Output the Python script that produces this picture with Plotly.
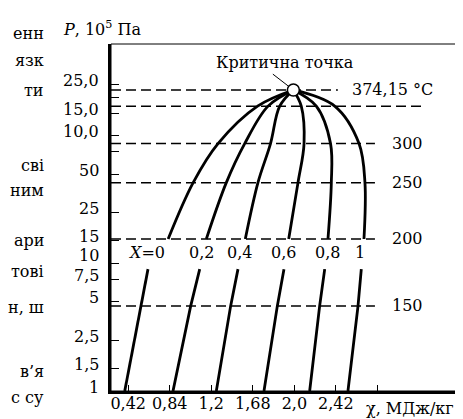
import math
import plotly.graph_objects as go

# ---------------- data ----------------
# saturation isotherms: pressure (10^5 Pa), label, right end of dashed line (MJ/kg)
isotherm_p = [4.64, 15.5, 42.8, 86.5, 170, 227.5]
isotherm_label = ["150", "200", "250", "300", "", "374,15 °C"]
isotherm_end_h = [2.915, 2.915, 2.915, 2.915, 3.42, 2.54]

# constant dryness lines X
dryness = ["<i>X</i>=0", "0,2", "0,4", "0,6", "0,8", "1"]
p_upper = [227.5, 170, 86.5, 42.8, 15.5]
h_upper = [
    [2.09, 1.728, 1.328, 1.077, 0.824],
    [2.09, 1.834, 1.598, 1.412, 1.210],
    [2.09, 1.952, 1.859, 1.732, 1.604],
    [2.09, 2.170, 2.198, 2.137, 2.043],
    [2.09, 2.322, 2.466, 2.474, 2.440],
    [2.09, 2.508, 2.754, 2.814, 2.804],
]
p_lower = [9.0, 4.64, 1.0]
h_lower = [
    [0.620, 0.549, 0.385],
    [1.143, 1.052, 0.873],
    [1.530, 1.456, 1.311],
    [1.995, 1.928, 1.793],
    [2.407, 2.356, 2.255],
    [2.777, 2.744, 2.642],
]
dryness_label_h = [0.590, 1.158, 1.542, 1.987, 2.431, 2.764]
dryness_label_p = 12.2

critical_h = 2.09
critical_p = 227.5

# axis ticks
x_tickvals = [0.42, 0.84, 1.26, 1.68, 2.10, 2.52, 2.94]
x_ticktext = ["0,42", "0,84", "1,2", "1,68", "2,0", "2,42", ""]
y_tickvals = [1, 1.5, 2.5, 5, 7.5, 10, 15, 25, 50, 75, 100, 150, 200, 250]
y_ticktext = ["1", "1,5", "2,5", "5", "7,5", "10", "15", "25", "50", "", "10,0", "15,0", "", "25,0"]

# cut-off fragments of the book text at the left margin (text, pixel row)
side_text = ["енн", "язк", "ти", "сві", "ним", "ари", "тові", "н, ш", "в’я", "с су"]
side_rows = [25, 53, 82, 157, 182, 232, 263, 299, 363, 390]

# ---------------- figure ----------------
FONT = "DejaVu Serif"
W, H = 463, 419
ML, MR, MT, MB = 103, 3, 36, 36
X_RANGE = [0.246, 3.856]
Y_RANGE = [0.0, 2.717]
FS = 16

fig = go.Figure()

x_left = X_RANGE[0]
for p, end in zip(isotherm_p, isotherm_end_h):
    fig.add_trace(go.Scatter(
        x=[x_left, end], y=[p, p], mode="lines",
        line=dict(color="black", width=1.5, dash="10px,5px"),
        hoverinfo="skip", showlegend=False))

for hu, hl in zip(h_upper, h_lower):
    fig.add_trace(go.Scatter(
        x=hu, y=p_upper, mode="lines",
        line=dict(color="black", width=2.8, shape="spline", smoothing=1.0),
        hoverinfo="skip", showlegend=False))
    fig.add_trace(go.Scatter(
        x=hl, y=p_lower, mode="lines",
        line=dict(color="black", width=2.8),
        hoverinfo="skip", showlegend=False))

fig.add_trace(go.Scatter(
    x=[critical_h], y=[critical_p], mode="markers",
    marker=dict(size=12, color="white", line=dict(color="black", width=1.6)),
    hoverinfo="skip", showlegend=False, cliponaxis=False))

ph = H - MT - MB
pw = W - ML - MR
ann = []
tfont = dict(family=FONT, size=FS, color="black")
for p, lab in zip(isotherm_p, isotherm_label):
    if not lab:
        continue
    xpos = 2.66 if "°" in lab else 3.064
    ann.append(dict(x=xpos, y=math.log10(p), xref="x", yref="y", text=lab,
                    showarrow=False, xanchor="left", yanchor="middle", font=tfont))
for h, lab in zip(dryness_label_h, dryness):
    ann.append(dict(x=h, y=math.log10(dryness_label_p), xref="x", yref="y", text=lab,
                    showarrow=False, xanchor="right" if "X" in lab else "center",
                    yanchor="middle", font=tfont,
                    xshift=22 if "X" in lab else 0))
# y tick labels (printed a little above their ticks in the original)
for v, lab in zip(y_tickvals, y_ticktext):
    if not lab:
        continue
    ann.append(dict(x=(93 - ML) / pw, y=math.log10(v), xref="paper", yref="y", text=lab,
                    showarrow=False, xanchor="right", yanchor="middle", font=tfont,
                    yshift=8 if lab == "10" else 4))
# critical point caption with leader line
ann.append(dict(x=critical_h, y=math.log10(critical_p), xref="x", yref="y", text="",
                showarrow=True, arrowhead=0, arrowwidth=1, arrowcolor="black",
                ax=-22, ay=-17, standoff=6))
ann.append(dict(x=critical_h, y=math.log10(critical_p), xref="x", yref="y",
                text="Критична точка", showarrow=False, xanchor="center",
                yanchor="middle", yshift=27, xshift=-8, font=tfont))
# axis titles
ann.append(dict(x=(53 - ML) / pw, y=(H - MB - 20) / ph, xref="paper", yref="paper",
                text="<i>P</i>, 10<sup>5</sup> Па", showarrow=False,
                xanchor="left", yanchor="middle", font=tfont))
ann.append(dict(x=(356 - ML) / pw, y=(H - MB - 400) / ph, xref="paper", yref="paper",
                text="χ, МДж/кг", showarrow=False,
                xanchor="left", yanchor="middle", font=tfont))
for t, r in zip(side_text, side_rows):
    ann.append(dict(x=(38 - ML) / pw, y=(H - MB - r) / ph, xref="paper", yref="paper",
                    text=t, showarrow=False, xanchor="right", yanchor="middle",
                    font=dict(family=FONT, size=16, color="black")))

fig.update_layout(
    width=W, height=H,
    margin=dict(l=ML, r=MR, t=MT, b=MB),
    paper_bgcolor="white", plot_bgcolor="white",
    annotations=ann,
    shapes=[dict(type="rect", xref="paper", yref="paper", x0=0, x1=1, y0=0, y1=1,
                 line=dict(color="black", width=1), layer="below")],
    font=dict(family=FONT, size=FS, color="black"),
)
fig.update_xaxes(
    range=X_RANGE, showgrid=False, zeroline=False,
    showline=True, linecolor="black", linewidth=2.5,
    ticks="inside", ticklen=6, tickwidth=1, tickcolor="black",
    tickvals=x_tickvals, ticktext=x_ticktext,
    tickfont=dict(family=FONT, size=FS, color="black"), ticklabelstandoff=-4,
)
fig.update_yaxes(
    type="log", range=Y_RANGE, showgrid=False, zeroline=False,
    showline=True, linecolor="black", linewidth=2.5,
    ticks="inside", ticklen=8, tickwidth=1.2, tickcolor="black",
    tickvals=y_tickvals, showticklabels=False,
)

fig.write_html("out.html")
